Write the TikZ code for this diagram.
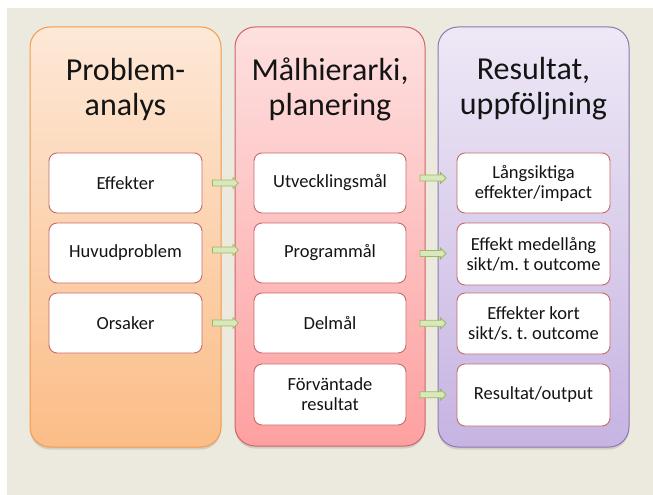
\documentclass[tikz,border=0pt]{standalone}
\usepackage{fontspec}
\setmainfont{Carlito}
\usetikzlibrary{shapes.arrows,shadows,calc}
\definecolor{bg}{HTML}{ECEADF}
\definecolor{orTop}{HTML}{FDE8D7}
\definecolor{orBot}{HTML}{FBBD87}
\definecolor{orLine}{HTML}{F59A4E}
\definecolor{pkTop}{HTML}{FEE0E0}
\definecolor{pkBot}{HTML}{FEA0A0}
\definecolor{pkLine}{HTML}{CF6466}
\definecolor{puTop}{HTML}{EEE8F6}
\definecolor{puBot}{HTML}{C6B4E2}
\definecolor{puLine}{HTML}{8E76B4}
\definecolor{boxLine}{HTML}{C46A6A}
\definecolor{arFill}{HTML}{D8E7BC}
\definecolor{arLine}{HTML}{9BBB59}
\definecolor{txt}{HTML}{141414}
\tikzset{
  column/.style={rounded corners=20pt, line width=1pt, minimum width=191pt, minimum height=420pt, inner sep=0pt,
    drop shadow={shadow xshift=0pt, shadow yshift=-2.5pt, opacity=0.25}},
  colA/.style={column, draw=orLine, top color=orTop, bottom color=orBot},
  colB/.style={column, draw=pkLine, top color=pkTop, bottom color=pkBot, minimum width=190pt, minimum height=419pt},
  colC/.style={column, draw=puLine, top color=puTop, bottom color=puBot},
  title/.style={align=center, text=txt, font=\fontsize{32}{35}\selectfont, inner sep=0pt},
  item/.style={draw=boxLine, fill=white, rounded corners=8pt, line width=0.9pt, minimum width=153pt, minimum height=60pt,
    align=center, text=txt, font=\fontsize{18.5}{20}\selectfont, inner sep=0pt},
  blockarrow/.style={single arrow, draw=arLine, fill=arFill, line width=0.8pt, minimum height=26pt, inner sep=2.6pt,
    single arrow head extend=2.4pt, single arrow tip angle=90}
}
\begin{document}
\begin{tikzpicture}[x=1pt,y=-1pt]
\useasboundingbox (0,0) rectangle (653,495);
\fill[white] (0,0) rectangle (653,495);
\fill[bg] (7,8) rectangle (653,495);

\node[colA] (cA) at (125.5,237) {};
\node[colB] (cB) at (330,236.5) {};
\node[colC] (cC) at (533.5,237) {};

\node[title] (tA) at (125.5,89) {Problem-\\analys};
\node[title] (tB) at (330,89) {Målhierarki,\\planering};
\node[title] (tC) at (533.5,89) {Resultat,\\uppföljning};

\node[item] (a1) at (125.5,183) {Effekter};
\node[item] (a2) at (125.5,253) {Huvudproblem};
\node[item] (a3) at (125.5,323) {Orsaker};

\node[item, minimum width=152pt] (b1) at (330,183) {Utvecklingsmål};
\node[item, minimum width=152pt] (b2) at (330,253) {Programmål};
\node[item, minimum width=152pt] (b3) at (330,323) {Delmål};
\node[item, minimum width=152pt, minimum height=61pt] (b4) at (330,394.5) {Förväntade\\resultat};

\node[item] (c1) at (533.5,183) {Långsiktiga\\effekter/impact};
\node[item, minimum height=62pt] (c2) at (533.5,254) {Effekt medellång\\sikt/m.\ t outcome};
\node[item, minimum height=61pt] (c3) at (533.5,323.5) {Effekter kort\\sikt/s.\ t.\ outcome};
\node[item, minimum height=62pt] (c4) at (533.5,395) {Resultat/output};

\node[blockarrow] (ar1) at ($(a1.east)!0.42!(b1.west)$) {};
\node[blockarrow] (ar2) at ($(a2.east)!0.42!(b2.west)+(0,-3)$) {};
\node[blockarrow] (ar3) at ($(a3.east)!0.42!(b3.west)$) {};

\node[blockarrow] (br1) at ($(b1.east)!0.5!(c1.west)+(0,-5)$) {};
\node[blockarrow] (br2) at ($(b2.east)!0.5!(c2.west)$) {};
\node[blockarrow] (br3) at ($(b3.east)!0.5!(c3.west)$) {};
\node[blockarrow] (br4) at ($(b4.east)!0.5!(c4.west)$) {};
\end{tikzpicture}
\end{document}
